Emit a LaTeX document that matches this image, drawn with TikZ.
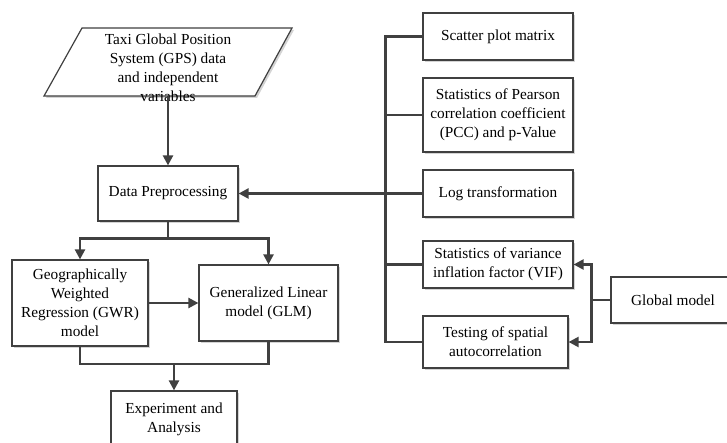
\documentclass[tikz,border=0pt]{standalone}
\usepackage{fontspec}
\setmainfont{Liberation Serif}
\usetikzlibrary{arrows.meta,shadows}
\definecolor{FCLine}{HTML}{404040}
\definecolor{FCShade}{HTML}{D4D4D4}

\begin{document}
\begin{tikzpicture}[x=1pt,y=-1pt,
  box/.style={draw=FCLine,line width=1.2pt,fill=white,align=center,inner sep=0pt,
    drop shadow={shadow xshift=2pt,shadow yshift=-2pt,fill=FCShade,opacity=1},
    font=\fontsize{15.3}{19}\selectfont},
  link/.style={FCLine,line width=2.3pt},
  arr/.style={link,-{Triangle[length=10pt,width=10pt]}}]
\path[use as bounding box] (0,0) rectangle (727,443);
% input data
\draw[FCLine,line width=1.2pt,fill=white,
  drop shadow={shadow xshift=2pt,shadow yshift=-2pt,fill=FCShade,opacity=1}]
  (82,28) -- (292,28) -- (255,96) -- (44,96) -- cycle;
\node[align=center,font=\fontsize{15.3}{19}\selectfont] (gps) at (168,67.5)
  {Taxi Global Position\\System (GPS) data\\and independent\\variables};
\coordinate (gpsout) at (168,96);
% left column
\node[box,minimum width=140pt,minimum height=55pt] (prep) at (168,193.5) {Data Preprocessing};
\node[box,minimum width=136pt,minimum height=86pt] (gwr) at (80,303) {Geographically\\Weighted\\Regression (GWR)\\model};
\node[box,minimum width=139pt,minimum height=76pt] (glm) at (268.5,303) {Generalized Linear\\model (GLM)};
\node[box,minimum width=126pt,minimum height=56pt] (exper) at (174,419) {Experiment and\\Analysis};
% right column
\node[box,minimum width=150pt,minimum height=47pt] (scatter) at (498,36.5) {Scatter plot matrix};
\node[box,minimum width=150pt,minimum height=74pt] (pcc) at (498,115) {Statistics of Pearson\\correlation coefficient\\(PCC) and p-Value};
\node[box,minimum width=150pt,minimum height=47pt] (logt) at (498,193.5) {Log transformation};
\node[box,minimum width=150pt,minimum height=47pt] (vif) at (498,264.5) {Statistics of variance\\inflation factor (VIF)};
\node[box,minimum width=145pt,minimum height=52pt] (spat) at (495.5,342) {Testing of spatial\\autocorrelation};
\node[box,minimum width=124pt,minimum height=46pt] (glob) at (673,300) {Global model};
% connectors
\draw[arr] (gpsout) -- (prep.north);
\draw[link] (prep.south) -- ++(0,17) coordinate (split);
\draw[arr] (split) -| (gwr.north);
\draw[arr] (split) -| (glm.north);
\draw[arr] (gwr.east |- glm.west) -- (glm.west);
\coordinate (merge) at (174,364);
\draw[link] (gwr.south) |- (merge) -| (glm.south);
\draw[arr] (merge) -- (exper.north);
\draw[link] (scatter.west) -- ++(-37,0) |- (spat.west);
\draw[link] (pcc.west) -- ++(-37,0);
\draw[link] (vif.west) -- ++(-37,0);
\draw[arr] (logt.west) -- (prep.east);
\draw[link] (glob.west) -- ++(-19,0) coordinate (gsplit);
\draw[arr] (gsplit) |- (vif.east);
\draw[arr] (gsplit) |- (spat.east);
\end{tikzpicture}
\end{document}
